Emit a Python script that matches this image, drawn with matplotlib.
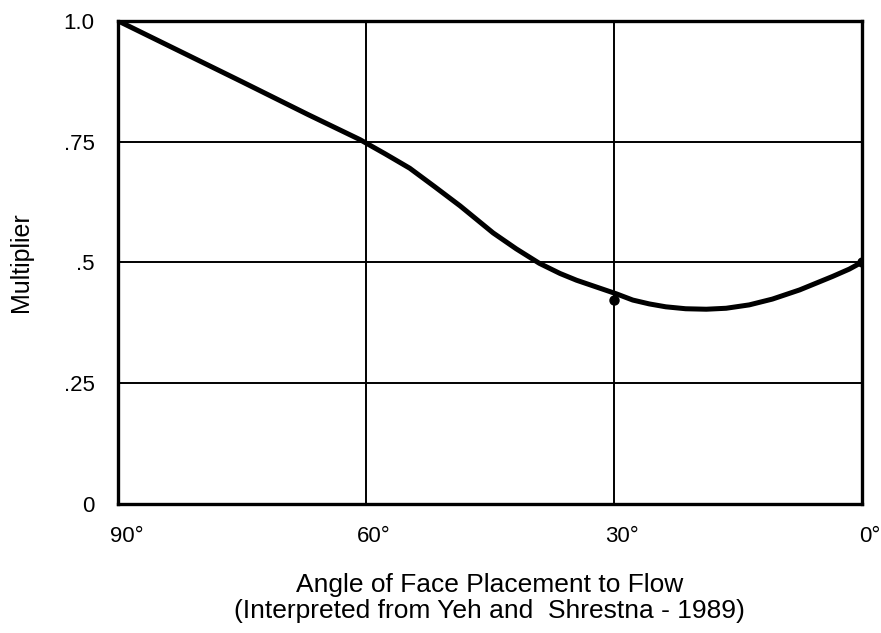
import matplotlib.pyplot as plt
import matplotlib.transforms as mtransforms

plt.rcParams['font.family'] = ['Liberation Sans', 'DejaVu Sans']

# multiplier, angle in degrees
angle = [90, 75, 67, 60.7, 57.7, 54.7, 51.7, 48.6, 46.6, 44.6, 41.8, 39.0,
         36.5, 34.5, 32.1, 29.7, 27.7, 25.7, 23.7, 21.3, 18.8, 16.4, 13.6,
         10.8, 7.5, 5.5, 3.5, 1.5, 0]
multiplier = [1.0, 0.874, 0.806, 0.754, 0.725, 0.695, 0.657, 0.617, 0.589,
              0.561, 0.528, 0.498, 0.477, 0.463, 0.449, 0.435, 0.422, 0.414,
              0.408, 0.404, 0.403, 0.405, 0.412, 0.424, 0.443, 0.457, 0.471,
              0.486, 0.5]

# measured points shown as dots
dot_angle = [30, 0]
dot_mult = [0.422, 0.5]

x_ticks = [90, 60, 30, 0]
x_labels = ['90°', '60°', '30°', '0°']
y_ticks = [0, 0.25, 0.5, 0.75, 1.0]
y_labels = ['0', '.25', '.5', '.75', '1.0']

fig = plt.figure(figsize=(8.81, 6.33), dpi=100)
ax = fig.add_axes([0.134, 0.204, 0.844, 0.763])

ax.plot(angle, multiplier, color='black', lw=3.6, solid_capstyle='round',
        solid_joinstyle='round', zorder=3)
ax.plot(dot_angle, dot_mult, 'o', color='black', ms=6.5, zorder=4)

ax.set_xlim(90, 0)
ax.set_ylim(0, 1.0)
ax.set_xticks(x_ticks)
ax.set_xticklabels(x_labels)
ax.set_yticks(y_ticks)
ax.set_yticklabels(y_labels)
ax.tick_params(length=0, labelsize=16)
ax.tick_params(axis='x', pad=16)
ax.tick_params(axis='y', pad=17)

# nudge the degree labels a little to the right
shift = mtransforms.ScaledTranslation(6 / 72, 0, fig.dpi_scale_trans)
for lbl in ax.get_xticklabels():
    lbl.set_transform(lbl.get_transform() + shift)

ax.grid(True, color='black', lw=1.4)
for s in ax.spines.values():
    s.set_linewidth(2.4)

ax.set_ylabel('Multiplier', fontsize=18, labelpad=22)
ax.set_xlabel('Angle of Face Placement to Flow\n(Interpreted from Yeh and  Shrestna - 1989)',
              fontsize=19, labelpad=19, linespacing=1.1)

fig.savefig('out.png', dpi=100)
